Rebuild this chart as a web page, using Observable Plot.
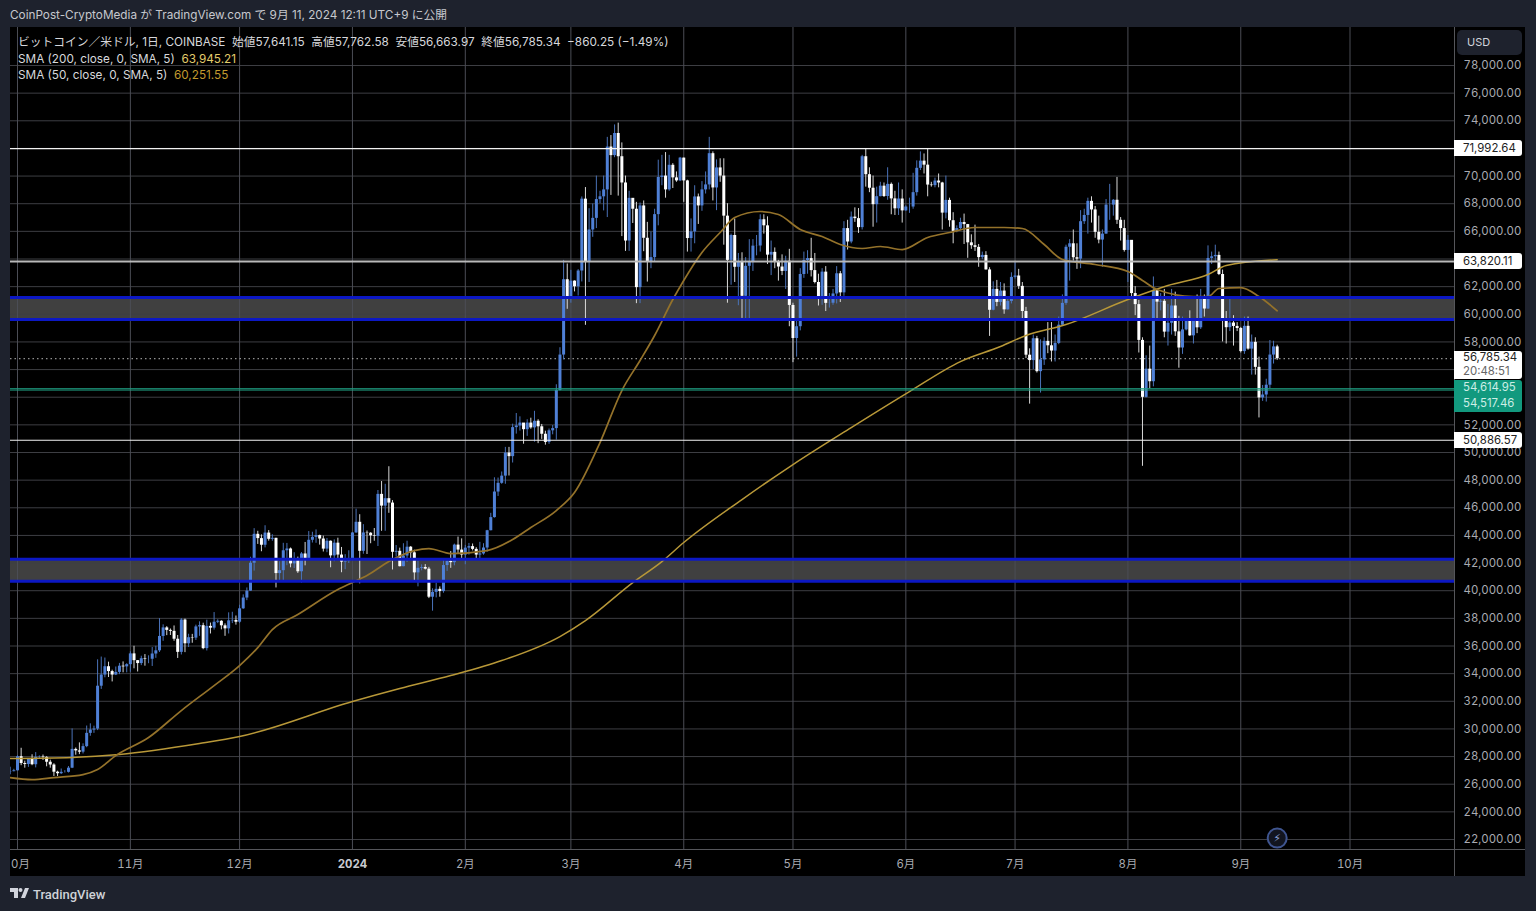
<!DOCTYPE html>
<html lang="ja">
<head>
<meta charset="utf-8">
<script src="https://cdn.jsdelivr.net/npm/d3@7"></script>
<script src="https://cdn.jsdelivr.net/npm/@observablehq/plot@0.6"></script>
<style>
html,body{margin:0;padding:0;width:1536px;height:911px;overflow:hidden;background:#1e222d;}
*{box-sizing:border-box;}
body{font-family:Inter,"Noto Sans CJK JP",sans-serif;position:relative;}
.abs{position:absolute;white-space:pre;}
#panel{position:absolute;left:10px;top:27px;width:1515px;height:849px;background:#000;}
#chart{position:absolute;left:0;top:0;}
#chart svg{display:block;}
.tag{position:absolute;left:1454px;width:68px;background:#fff;color:#222;font:11.4px/16px Inter,Roboto,sans-serif;padding-left:9px;border-radius:0 3px 3px 0;white-space:pre;}
.leg{font-size:11.75px;line-height:16px;color:#d7d8dc;}
</style>
</head>
<body>
<div id="panel"></div>
<div id="chart"></div>
<div class="abs" style="left:10px;top:7px;font-size:11.75px;line-height:16px;color:#c6c8ce;">CoinPost-CryptoMedia が TradingView.com で 9月 11, 2024 12:11 UTC+9 に公開</div>
<div class="abs leg" style="left:18px;top:34px;">ビットコイン／米ドル, 1日, COINBASE  始値57,641.15  高値57,762.58  安値56,663.97  終値56,785.34  −860.25 (−1.49%)</div>
<div class="abs leg" style="left:18px;top:51px;">SMA (200, close, 0, SMA, 5)  <span style="color:#e3cc6b">63,945.21</span></div>
<div class="abs leg" style="left:18px;top:67px;">SMA (50, close, 0, SMA, 5)  <span style="color:#c29a2e">60,251.55</span></div>
<div class="abs" style="left:1457px;top:30px;width:65px;height:25px;background:#1e222d;border-radius:5px;color:#d1d4dc;font:11px/25px Inter,sans-serif;padding-left:10px;">USD</div>
<div class="abs" style="left:1454px;top:27px;width:1px;height:849px;background:#55565a;"></div>
<div class="abs" style="left:10px;top:849px;width:1515px;height:1px;background:#55565a;"></div>
<svg class="abs" style="left:10px;top:888px;" width="19" height="12" viewBox="0 0 19 12"><path fill="#d1d4dc" d="M0 0h8v10H4V4H0zM15 0h4l-4 10h-4zM8.5 2a2 2 0 1 0 4 0 2 2 0 1 0-4 0z"/></svg>
<div class="abs" style="left:33px;top:886px;font:500 13px/18px Roboto,sans-serif;color:#cfd2d8;">TradingView</div>
<script>
const firstDay = "2023-09-29";
const firstOpen = 26890;
const closes = [
26910,26970,
27990,27500,27430,27790,27410,27950,27970,27940,27590,27390,26870,26760,26860,26860,27160,28520,28410,28320,28720,29680,29920,29990,33090,33900,34500,34150,33900,34090,34540,34490,34650,
35430,34940,34730,35080,35040,35040,35420,35650,36690,37310,37130,37060,36490,35540,37880,36160,36600,36570,37380,37470,35810,37420,37290,37720,37790,37460,37240,37820,37850,37720,
38690,39470,39970,41990,44080,43770,43290,44170,43720,43790,41240,41450,42890,43020,41940,42260,41370,42660,42270,43650,43860,43990,43740,43010,43580,42520,43440,42580,42070,42140,42280,
44180,44950,42850,44180,44160,43970,43930,46970,46120,46660,46340,42780,42850,41740,42510,43150,42740,41290,41620,41680,41560,39530,39880,40100,39940,41820,42120,42030,43300,42940,42580,
43080,43190,42990,42580,42660,43090,44340,45290,47140,47770,48290,49960,49700,51800,51920,52130,51650,52130,51780,52260,51860,51320,50730,51570,51730,54490,57050,62500,61170,
62400,61990,63130,68330,63800,66100,66940,68300,68500,69000,72100,71480,73080,71400,69500,65300,68390,67600,61930,67840,65500,63800,64100,67210,69900,70000,69000,70780,69870,69650,71300,
69650,65480,65960,68490,67840,69000,69360,71620,69140,70590,70000,67100,63900,65700,63400,63800,61300,63470,63800,64930,64940,66840,66400,64280,64480,63750,63420,63100,63840,60640,
58250,59100,62880,63890,64030,63160,62300,61190,63050,60790,60800,61470,62930,61550,66200,65230,67030,66920,66270,71400,70100,69120,67930,68510,69270,68520,69400,68350,67630,68340,67480,
67760,67760,68800,70560,71080,70790,69350,69310,69640,69500,67320,68240,66770,66000,66200,66640,66490,65170,64960,64840,64100,64260,63210,60290,61800,60860,61680,60320,60930,62670,
62770,62020,60200,57040,56650,58230,55850,56700,58040,57720,57340,57890,59210,60790,64850,65100,64090,63990,66700,67150,68170,67550,65930,65370,65800,67900,67900,68250,66800,66200,64620,
65350,61500,60700,58110,53990,56030,55120,61700,60880,60940,58710,59350,60600,58730,57560,58870,59480,58440,59480,59020,61170,60380,64040,64160,64260,62880,59500,59030,59370,59120,58970,
57300,59130,57480,57970,56160,53950,54160,54870,57050,57641,56785.34];
const highs = [
27230,27080,
28060,28600,27670,27830,28130,28290,28050,28110,27990,27740,27480,26940,27100,26980,27280,30000,28620,28990,28920,30210,30370,30200,35000,35200,35130,34830,34250,34480,34740,34850,34720,
35580,35980,34950,35260,35380,35290,35890,35980,37980,37530,37400,37230,37450,36760,37980,37950,36850,36840,37510,37750,37650,37870,37660,38420,37900,37830,37600,38400,38440,38170,
38950,39700,40200,42420,44490,44300,44040,44700,44350,44050,43800,42100,43430,43420,43090,42750,42430,42760,43490,44280,44230,44400,44020,43950,43780,43600,43680,43800,43130,42610,42890,
44200,45900,45500,44780,44320,44200,44500,47250,47900,47700,48970,46520,43270,43080,43400,43580,43200,42930,42150,41870,41890,41690,40140,40550,40280,42220,42200,42840,43370,43880,43750,
43280,43420,43380,43110,43500,43400,44370,45600,48170,48150,48590,50370,50370,52050,52820,52580,52000,52370,52480,52980,52370,52030,51540,51700,51950,54900,57580,63900,63640,
63180,62420,63230,68490,69170,67640,67980,70000,68900,70000,72800,72930,73700,73830,72400,70000,68900,68200,68100,68050,68200,66650,65950,67600,71150,71500,71700,71500,70900,70300,71350,
71300,69700,66900,69300,68700,69600,70300,72800,71750,71170,71250,71250,68000,65800,66900,64400,64450,64100,65400,65400,65700,67200,67200,67050,65300,64800,63900,64300,64200,64700,
60800,59600,63300,64500,64600,65500,64400,62900,63300,63450,61500,61800,63450,63100,66700,66800,67400,67700,67650,71500,71950,70600,70000,69200,69550,69500,70600,69500,68900,69500,69000,
67850,68400,70200,71100,71750,71600,71950,69550,69850,70150,69550,70000,68400,67350,66400,66950,67250,66500,65750,66450,65050,64500,64530,63370,62350,62450,62300,62200,61100,63000,
63800,63250,62300,60500,57500,58500,58400,58150,58300,59400,59400,58500,59800,61400,65000,65400,66100,65100,67500,67600,68400,68500,67800,67100,66100,68300,69400,68300,69900,67000,66800,
65700,65000,62000,61000,58300,57000,57700,62700,61750,61500,61800,60700,61800,61600,59850,59800,59650,60250,59600,61400,61800,61400,64950,64500,65000,64500,63200,60200,61100,59900,59400,
59050,59800,59800,58500,58300,56900,54850,55300,58100,58050,57762.58];
const lows = [
26680,26890,
26960,27340,27160,27220,27340,27180,27860,27720,27260,27160,26560,26560,26700,26810,26810,27130,28100,28140,28190,28640,29470,29680,29880,32860,33700,33720,33400,33860,33930,34060,34060,
34100,34350,34120,34580,34540,34720,34520,35110,35530,36340,36750,36760,36340,35100,35350,35520,35890,36200,36400,36700,35730,35640,36870,37150,37620,37170,36700,36870,37620,37510,
37620,38650,39280,39960,41420,43350,42820,43100,43590,43580,40200,40680,40650,41810,41660,41610,41250,40550,41800,42190,43450,43430,43300,42800,42750,41660,42100,42300,41300,41520,41970,
42180,44150,40500,42640,42620,43400,43580,43200,44300,44300,45600,41500,42430,41720,41730,42050,42200,40680,40280,41440,41500,39430,38520,39480,39530,39820,41400,41620,41800,42690,42280,
41880,42580,42880,42250,42260,42570,42790,44330,45250,46820,47700,47700,48300,49240,51330,51550,50600,51170,51680,50750,50640,50950,50530,50590,51280,50900,54450,56700,60360,
60800,61620,61320,62340,59200,62300,65570,66200,68000,67480,67000,68600,71330,68550,65620,64550,64550,66570,60770,60770,64530,62330,63300,63770,66400,69300,68400,68900,69100,69550,69600,
68100,64500,64500,65100,66500,67450,68700,69000,68200,67500,69550,65000,60800,62100,62300,60620,59700,59600,59650,63100,64230,64500,65800,63600,62800,63300,62400,62800,61800,59100,
56500,56900,58800,62600,62900,62700,62200,60600,60650,60200,60450,60650,60750,60850,61300,64650,65100,66650,65850,66100,69200,68800,66300,66600,68500,68450,68250,67200,67150,67150,66600,
67450,67300,67600,68550,70400,70150,68500,69200,69150,69150,66100,66900,66300,65100,65900,66050,65050,64050,64700,64550,63400,63950,63200,58400,60250,60550,60600,60000,60300,60750,
62550,61800,59500,56800,53500,56000,55750,54300,56300,57150,56550,56550,57800,59200,60650,62400,63850,63250,63300,66500,65800,66600,65500,65100,63400,65800,66800,67100,66500,65300,64500,
62300,61200,59900,57200,49000,53950,54600,54750,59600,60250,58300,57700,58500,58400,56100,57100,58800,58400,57850,58600,58900,59800,60350,63600,63800,62800,58000,57850,58750,57700,58750,
57200,57100,57400,55600,55600,52500,53700,53650,54600,56400,56663.97];

const sma200Days = [-2,15,28,50,61,92,105,119,133,149,156,169,177,183,199,213,229,245,259,270,277,288,305,316,327,332,346];
const sma200Values = [27855,27930,28145,28940,29445,31980,32920,33860,34945,36685,37840,40590,42110,43485,46595,49130,51805,54410,56580,57665,58465,59260,61070,62080,62875,63530,63945.21];
const sma50Days = [-2,4,10,18,22,27,36,45,54,61,66,70,77,88,92,96,102,109,113,119,129,136,141,148,153,160,166,171,175,180,183,188,193,197,204,209,215,221,226,232,237,243,250,256,263,271,276,282,287,296,305,309,313,323,327,330,336,341,346];
const sma50Values = [26480,26335,26480,26695,27060,28070,29375,31330,33135,34585,35885,37190,38275,40085,40590,41095,42110,42905,43050,42690,42905,43700,44570,45800,47100,50720,54485,56655,58465,61070,62445,64470,65915,67000,67435,67220,66135,65625,65050,64760,64905,64685,65555,65915,66280,66280,66205,65050,63965,63600,63095,62445,61790,61285,61285,61865,61935,61285,60251.55];

const monthTicks = ["2023-10-01","2023-11-01","2023-12-01","2024-01-01","2024-02-01","2024-03-01","2024-04-01","2024-05-01","2024-06-01","2024-07-01","2024-08-01","2024-09-01","2024-10-01"];
const monthLabels = ["0月","11月","12月","2024","2月","3月","4月","5月","6月","7月","8月","9月","10月"];
const gridPrices = d3.range(22000,78001,2000);
const hiddenTickPrices = [72000,64000,56000,54000];
const priceTicks = gridPrices.filter(p=>!hiddenTickPrices.includes(p));
const whiteLevels = [71992.64,50886.57];
const greyLevel = 63820.11;
const tealLevels = [54614.95,54517.46];
const lastPrice = 56785.34;
const bandTops = [61220,42280];
const bandBottoms = [59620,40680];

const dayOf = i => d3.utcDay.offset(new Date(firstDay+"T00:00:00Z"), i);
const oct1 = new Date("2023-10-01T00:00:00Z");
const candles = closes.map((c,i)=>({date:dayOf(i),open:i?closes[i-1]:firstOpen,close:c,high:highs[i],low:lows[i]}));
const up = candles.filter(d=>d.close>=d.open), down = candles.filter(d=>d.close<d.open);
const sma200 = sma200Days.map((d,i)=>({date:d3.utcDay.offset(oct1,d),v:sma200Values[i]}));
const sma50 = sma50Days.map((d,i)=>({date:d3.utcDay.offset(oct1,d),v:sma50Values[i]}));
const bands = bandTops.map((t,i)=>({t,b:bandBottoms[i]}));
const mDates = monthTicks.map(s=>new Date(s+"T00:00:00Z"));
const labelOf = new Map(mDates.map((d,i)=>[+d,monthLabels[i]]));
const FONT = 'Inter,"Noto Sans CJK JP",sans-serif';

const chart = Plot.plot({
  width:1536,height:911,
  marginLeft:10,marginRight:82,marginTop:27,marginBottom:62,
  style:{background:"transparent",fontFamily:FONT,overflow:"visible"},
  x:{type:"utc",domain:[oct1,mDates[12]],range:[17,1349.5]},
  y:{domain:[22000,78000],range:[839,65]},
  marks:[
    Plot.rect(bands,{y1:"b",y2:"t",fill:"#404040"}),
    Plot.ruleY(gridPrices,{stroke:"#3d3e43",strokeWidth:1}),
    Plot.ruleX(mDates,{stroke:"#4b4d55",strokeWidth:1}),
    Plot.ruleY([lastPrice],{stroke:"#b5b5b5",strokeWidth:1,strokeDasharray:"1.5,3"}),
    Plot.ruleX(up,{x:"date",y1:"low",y2:"high",stroke:"#4a72b8",strokeWidth:1,clip:true}),
    Plot.ruleX(down,{x:"date",y1:"low",y2:"high",stroke:"#d8d8d8",strokeWidth:1,clip:true}),
    Plot.ruleX(up,{x:"date",y1:"open",y2:"close",stroke:"#4f80d6",strokeWidth:3,clip:true}),
    Plot.ruleX(down,{x:"date",y1:"open",y2:"close",stroke:"#ffffff",strokeWidth:3,clip:true}),
    Plot.line(sma200,{x:"date",y:"v",stroke:"#b89838",strokeWidth:1.5,curve:"monotone-x",clip:true}),
    Plot.line(sma50,{x:"date",y:"v",stroke:"#94722a",strokeWidth:1.7,curve:"monotone-x",clip:true}),
    Plot.ruleY(whiteLevels,{stroke:"#f2f2f2",strokeWidth:1.2}),
    Plot.ruleY([greyLevel],{stroke:"#b9b9b9",strokeWidth:2}),
    Plot.ruleY(tealLevels,{stroke:"#1f9e82",strokeWidth:1}),
    Plot.ruleY(bandTops.concat(bandBottoms),{stroke:"#0c18c4",strokeWidth:3}),
    Plot.axisY(priceTicks,{anchor:"right",tickSize:0,tickPadding:9,label:null,tickFormat:d3.format(",.2f"),fontSize:11.4,fill:"#a9abb2"}),
    Plot.axisX(mDates.slice(1).filter(d=>labelOf.get(+d)!=="2024"),{anchor:"bottom",tickSize:0,tickPadding:10,label:null,tickFormat:d=>labelOf.get(+d),fontSize:11.4,fill:"#a9abb2"}),
    Plot.axisX([mDates[3]],{anchor:"bottom",tickSize:0,tickPadding:10,label:null,tickFormat:d=>labelOf.get(+d),fontSize:11.4,fontWeight:"bold",fill:"#c8cad0"}),
    Plot.axisX([mDates[0]],{anchor:"bottom",tickSize:0,tickPadding:10,label:null,tickFormat:d=>labelOf.get(+d),fontSize:11.4,dx:3,fill:"#a9abb2"}),
    Plot.dot([{x:dayOf(348),y:22100}],{x:"x",y:"y",r:9.5,stroke:"#3f5590",strokeWidth:2,fill:"#12151f"}),
    Plot.text([{x:dayOf(348),y:22100}],{x:"x",y:"y",text:()=>"⚡",fontSize:11,fill:"#8aa0d8",fontFamily:"DejaVu Sans"})
  ]
});
document.getElementById("chart").appendChild(chart);

const yScale = chart.scale("y");
const tags = [
  {p:71992.64,h:16,text:"71,992.64"},
  {p:63820.11,h:16,text:"63,820.11"},
  {p:50886.57,h:16,text:"50,886.57"}
];
tags.forEach(t=>{
  const el=document.createElement("div");el.className="tag";
  el.style.top=(yScale.apply(t.p)-t.h/2)+"px";el.style.height=t.h+"px";el.textContent=t.text;
  document.body.appendChild(el);
});
const last=document.createElement("div");last.className="tag";
last.style.top=(yScale.apply(lastPrice)-7)+"px";last.style.height="28px";last.style.lineHeight="13.5px";
last.innerHTML='56,785.34<br><span style="color:#666">20:48:51</span>';
document.body.appendChild(last);
const teal=document.createElement("div");teal.className="tag";
teal.style.top=(yScale.apply(lastPrice)+22)+"px";teal.style.height="32px";teal.style.background="#12997e";teal.style.color="#cdeee6";teal.style.paddingTop="0";
teal.innerHTML='<div style="line-height:15px">54,614.95</div><div style="line-height:17px">54,517.46</div>';
document.body.appendChild(teal);
</script>
</body>
</html>
